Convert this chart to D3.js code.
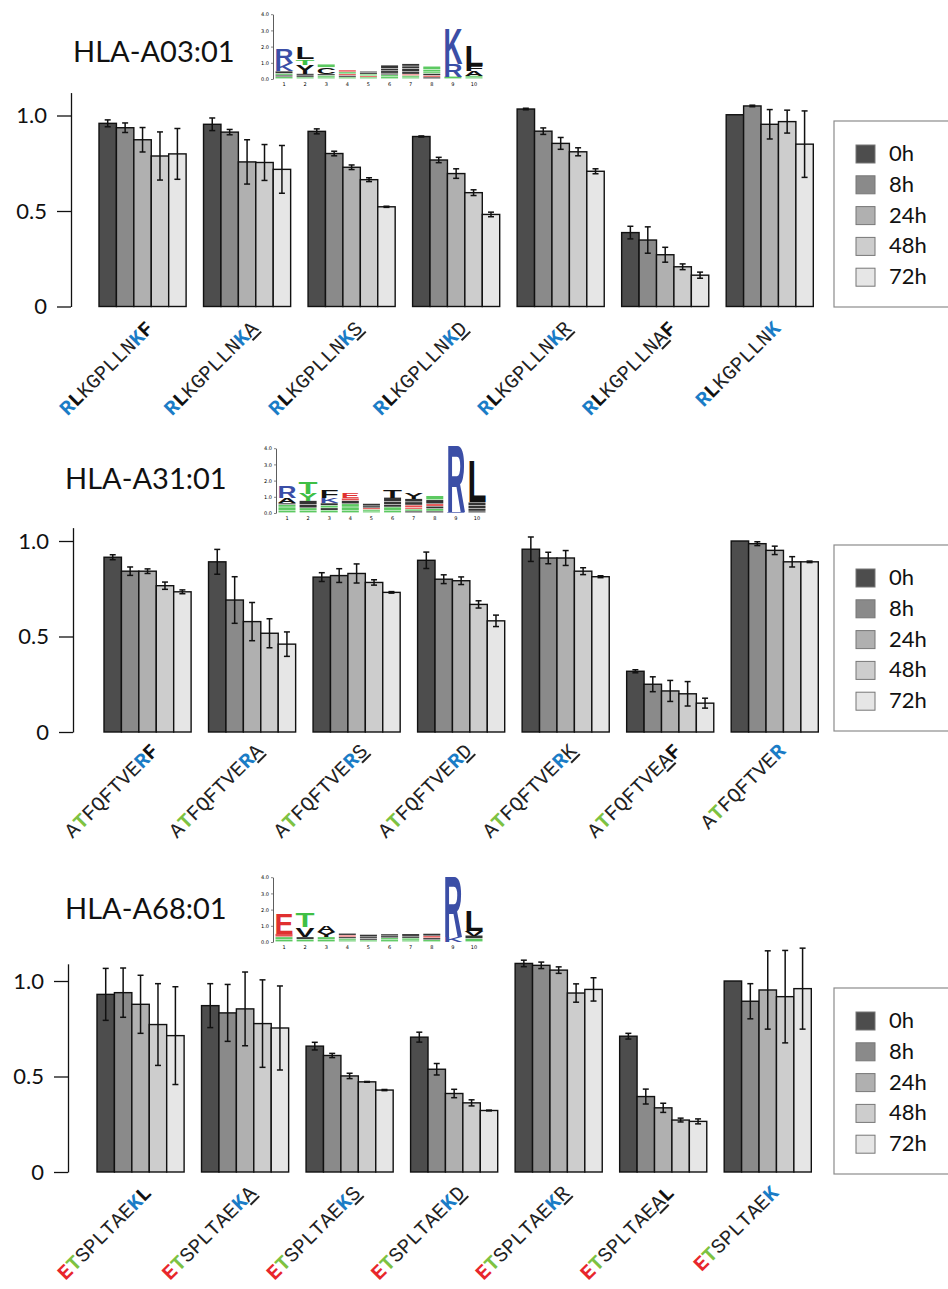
<!DOCTYPE html>
<html>
<head>
<meta charset="utf-8">
<script src="https://cdn.jsdelivr.net/npm/d3@7"></script>
<style>
  body { margin: 0; background: #fff; }
  svg { display: block; }
</style>
</head>
<body>
<svg id="chart" width="948" height="1289"></svg>
<script>
// time points and their bar colours
const times = ["0h", "8h", "24h", "48h", "72h"];
const timeFills = ["#4d4d4d", "#8a8a8a", "#b0b0b0", "#cdcdcd", "#e6e6e6"];
const yTicks = [0, 0.5, 1.0];

// HLA-A03:01
const a03Peptides = ["RLKGPLLNKF", "RLKGPLLNKA", "RLKGPLLNKS", "RLKGPLLNKD", "RLKGPLLNKR", "RLKGPLLNAF", "RLKGPLLNK"];
const a03Marks = ["BKnnnnnnBK", "BKnnnnnnBu", "BKnnnnnnBu", "BKnnnnnnBu", "BKnnnnnnBu", "BKnnnnnnuK", "BKnnnnnnB"];
const a03Values = [
  [0.959, 0.936, 0.873, 0.788, 0.799],
  [0.954, 0.913, 0.757, 0.754, 0.718],
  [0.917, 0.801, 0.729, 0.664, 0.522],
  [0.890, 0.767, 0.696, 0.596, 0.482],
  [1.034, 0.918, 0.854, 0.810, 0.708],
  [0.387, 0.348, 0.271, 0.208, 0.164],
  [1.004, 1.050, 0.954, 0.968, 0.850]
];
const a03Errors = [
  [0.018, 0.025, 0.064, 0.126, 0.133],
  [0.033, 0.014, 0.116, 0.094, 0.125],
  [0.013, 0.012, 0.012, 0.010, 0.003],
  [0.003, 0.014, 0.025, 0.015, 0.012],
  [0.004, 0.017, 0.031, 0.021, 0.013],
  [0.033, 0.069, 0.039, 0.015, 0.016],
  [0.000, 0.004, 0.077, 0.060, 0.174]
];

// HLA-A31:01
const a31Peptides = ["ATFQFTVERF", "ATFQFTVERA", "ATFQFTVERS", "ATFQFTVERD", "ATFQFTVERK", "ATFQFTVEAF", "ATFQFTVER"];
const a31Marks = ["nGnnnnnnBK", "nGnnnnnnBu", "nGnnnnnnBu", "nGnnnnnnBu", "nGnnnnnnBu", "nGnnnnnnuK", "nGnnnnnnB"];
const a31Values = [
  [0.915, 0.842, 0.842, 0.766, 0.734],
  [0.891, 0.691, 0.578, 0.517, 0.460],
  [0.811, 0.819, 0.830, 0.783, 0.731],
  [0.899, 0.800, 0.792, 0.668, 0.582],
  [0.957, 0.911, 0.911, 0.842, 0.813],
  [0.318, 0.250, 0.215, 0.200, 0.151],
  [1.000, 0.986, 0.951, 0.891, 0.891]
];
const a31Errors = [
  [0.013, 0.022, 0.012, 0.019, 0.010],
  [0.065, 0.122, 0.100, 0.076, 0.064],
  [0.023, 0.036, 0.050, 0.014, 0.004],
  [0.043, 0.023, 0.020, 0.019, 0.030],
  [0.064, 0.030, 0.039, 0.018, 0.005],
  [0.008, 0.039, 0.055, 0.064, 0.026],
  [0.000, 0.010, 0.022, 0.027, 0.004]
];

// HLA-A68:01
const a68Peptides = ["ETSPLTAEKL", "ETSPLTAEKA", "ETSPLTAEKS", "ETSPLTAEKD", "ETSPLTAEKR", "ETSPLTAEAL", "ETSPLTAEK"];
const a68Marks = ["RGnnnnnnBK", "RGnnnnnnBu", "RGnnnnnnBu", "RGnnnnnnBu", "RGnnnnnnBu", "RGnnnnnnuK", "RGnnnnnnB"];
const a68Values = [
  [0.930, 0.939, 0.878, 0.772, 0.714],
  [0.871, 0.833, 0.854, 0.777, 0.754],
  [0.659, 0.610, 0.503, 0.472, 0.429],
  [0.706, 0.538, 0.411, 0.362, 0.322],
  [1.092, 1.082, 1.057, 0.937, 0.956],
  [0.711, 0.395, 0.336, 0.272, 0.265],
  [1.000, 0.894, 0.953, 0.918, 0.960]
];
const a68Errors = [
  [0.136, 0.129, 0.152, 0.214, 0.256],
  [0.115, 0.149, 0.193, 0.229, 0.220],
  [0.020, 0.011, 0.014, 0.002, 0.003],
  [0.026, 0.030, 0.022, 0.016, 0.002],
  [0.017, 0.017, 0.017, 0.048, 0.061],
  [0.015, 0.039, 0.024, 0.010, 0.013],
  [0.000, 0.092, 0.205, 0.242, 0.212]
];

// sequence logos: per position, letters bottom to top [letter, bits, colour code]
const logoTicks = [0, 1, 2, 3, 4];
const logoPositions = [1, 2, 3, 4, 5, 6, 7, 8, 9, 10];
const a03Logo = [
  [["G", 0.12, "g"], ["A", 0.1, "k"], ["S", 0.1, "g"], ["C", 0.15, "k"], ["K", 0.5, "b"], ["R", 0.9, "b"]],
  [["S", 0.1, "g"], ["A", 0.12, "k"], ["V", 0.1, "k"], ["Y", 0.55, "k"], ["T", 0.35, "g"], ["L", 0.75, "k"]],
  [["G", 0.1, "g"], ["S", 0.1, "g"], ["A", 0.1, "k"], ["C", 0.4, "k"], ["Y", 0.2, "g"]],
  [["G", 0.1, "g"], ["A", 0.1, "k"], ["D", 0.1, "r"], ["S", 0.12, "g"], ["E", 0.12, "r"]],
  [["T", 0.1, "g"], ["E", 0.08, "r"], ["S", 0.1, "g"], ["A", 0.1, "k"], ["L", 0.08, "k"]],
  [["S", 0.12, "g"], ["G", 0.12, "g"], ["V", 0.1, "k"], ["P", 0.15, "k"], ["A", 0.15, "k"], ["L", 0.2, "k"]],
  [["T", 0.1, "g"], ["S", 0.1, "g"], ["D", 0.08, "r"], ["L", 0.15, "k"], ["A", 0.2, "k"], ["V", 0.15, "k"], ["I", 0.15, "k"]],
  [["P", 0.1, "k"], ["E", 0.1, "r"], ["A", 0.12, "k"], ["N", 0.1, "g"], ["S", 0.15, "g"], ["G", 0.2, "g"]],
  [["S", 0.15, "g"], ["R", 0.8, "b"], ["K", 2.25, "b"]],
  [["G", 0.1, "g"], ["S", 0.1, "g"], ["A", 0.3, "k"], ["F", 0.3, "k"], ["L", 1.3, "k"]]
];
const a31Logo = [
  [["G", 0.15, "g"], ["S", 0.2, "g"], ["T", 0.15, "g"], ["V", 0.1, "k"], ["A", 0.3, "k"], ["R", 0.75, "b"]],
  [["S", 0.15, "g"], ["G", 0.15, "g"], ["A", 0.2, "k"], ["V", 0.25, "k"], ["Y", 0.45, "g"], ["T", 0.75, "g"]],
  [["S", 0.15, "g"], ["A", 0.15, "k"], ["G", 0.15, "g"], ["V", 0.15, "k"], ["K", 0.35, "b"], ["F", 0.45, "k"]],
  [["G", 0.15, "g"], ["S", 0.2, "g"], ["T", 0.2, "g"], ["A", 0.2, "k"], ["D", 0.15, "r"], ["E", 0.35, "r"]],
  [["G", 0.1, "g"], ["T", 0.1, "g"], ["D", 0.1, "r"], ["A", 0.12, "k"], ["L", 0.15, "k"]],
  [["G", 0.15, "g"], ["S", 0.2, "g"], ["A", 0.15, "k"], ["L", 0.2, "k"], ["E", 0.25, "k"], ["T", 0.45, "k"]],
  [["A", 0.1, "k"], ["S", 0.12, "g"], ["D", 0.1, "r"], ["E", 0.15, "r"], ["V", 0.2, "k"], ["L", 0.2, "k"], ["Y", 0.4, "k"]],
  [["P", 0.1, "k"], ["S", 0.15, "g"], ["A", 0.15, "k"], ["E", 0.15, "r"], ["L", 0.25, "k"], ["G", 0.25, "g"]],
  [["K", 0.05, "b"], ["R", 4.3, "b"]],
  [["F", 0.1, "k"], ["V", 0.15, "k"], ["I", 0.2, "k"], ["M", 0.2, "k"], ["L", 2.6, "k"]]
];
const a68Logo = [
  [["S", 0.15, "g"], ["G", 0.15, "g"], ["D", 0.2, "r"], ["E", 1.3, "r"]],
  [["S", 0.15, "g"], ["A", 0.15, "k"], ["V", 0.6, "k"], ["T", 0.9, "g"]],
  [["G", 0.15, "g"], ["S", 0.15, "g"], ["Y", 0.3, "k"], ["A", 0.4, "k"]],
  [["G", 0.1, "g"], ["T", 0.1, "g"], ["A", 0.1, "k"], ["E", 0.1, "r"], ["V", 0.12, "k"]],
  [["S", 0.1, "g"], ["A", 0.1, "k"], ["L", 0.1, "k"], ["Y", 0.15, "k"]],
  [["G", 0.12, "g"], ["S", 0.12, "g"], ["A", 0.12, "k"], ["L", 0.12, "k"]],
  [["T", 0.1, "g"], ["S", 0.12, "g"], ["A", 0.12, "k"], ["L", 0.15, "k"]],
  [["G", 0.12, "g"], ["A", 0.12, "k"], ["E", 0.12, "r"], ["L", 0.15, "k"]],
  [["K", 0.3, "b"], ["R", 3.9, "b"]],
  [["G", 0.2, "g"], ["A", 0.2, "k"], ["V", 0.3, "k"], ["L", 1.3, "k"]]
];

const logoColors = { b: "#3b4ea6", g: "#3fbf45", r: "#e03030", k: "#111111" };
const markColors = { B: "#1a7cc6", K: "#111111", G: "#7dc242", R: "#e8262b", n: "#222222", u: "#222222" };

const panels = [
  { title: "HLA-A03:01", peptides: a03Peptides, marks: a03Marks, values: a03Values, errors: a03Errors, logo: a03Logo,
    titleX: 73, titleY: 62, y0: 306.5, top: 1.12, axisX: 71, barsX0: 99, legendY: 121, logoX: 273, logoY0: 79, labelDy: 23 },
  { title: "HLA-A31:01", peptides: a31Peptides, marks: a31Marks, values: a31Values, errors: a31Errors, logo: a31Logo,
    titleX: 65, titleY: 489, y0: 732, top: 1.07, axisX: 73, barsX0: 104, legendY: 545, logoX: 276, logoY0: 513, labelDy: 20 },
  { title: "HLA-A68:01", peptides: a68Peptides, marks: a68Marks, values: a68Values, errors: a68Errors, logo: a68Logo,
    titleX: 65, titleY: 919, y0: 1172, top: 1.09, axisX: 68, barsX0: 97, legendY: 988, logoX: 273, logoY0: 942, labelDy: 22 }
];

const svg = d3.select("#chart");
const unit = 191;          // pixels per 1.0 on the value axis
const groupsWidth = 714.3; // from first bar to last bar
const color = d3.scaleOrdinal().domain(times).range(timeFills);

panels.forEach(p => {
  const g = svg.append("g");

  // title
  g.append("text")
    .attr("x", p.titleX).attr("y", p.titleY)
    .attr("font-family", "Lato, 'Open Sans', sans-serif")
    .attr("font-size", 29)
    .attr("fill", "#111")
    .text(p.title);

  // scales
  const y = d3.scaleLinear().domain([0, p.top]).range([p.y0, p.y0 - p.top * unit]);
  const x = d3.scaleBand()
    .domain(p.peptides)
    .range([p.barsX0, p.barsX0 + groupsWidth])
    .paddingInner(1 / 6).paddingOuter(0);
  const xs = d3.scaleBand().domain(times).range([0, x.bandwidth()]);

  // y axis
  const yAxis = g.append("g")
    .attr("transform", "translate(" + p.axisX + ",0)")
    .call(d3.axisLeft(y)
      .tickValues(yTicks)
      .tickSize(14).tickSizeOuter(0).tickPadding(10)
      .tickFormat(d => d === 0 ? "0" : d3.format(".1f")(d)));
  yAxis.select(".domain").attr("stroke", "#111").attr("stroke-width", 1.3);
  yAxis.selectAll(".tick line").attr("stroke", "#111").attr("stroke-width", 1.3);
  yAxis.selectAll(".tick text")
    .attr("font-family", "Lato, 'Open Sans', sans-serif")
    .attr("font-size", 22).attr("fill", "#111");

  // bars
  const groups = g.selectAll(".grp")
    .data(p.peptides.map((pep, i) => ({
      pep,
      bars: times.map((t, j) => ({ t, v: p.values[i][j], e: p.errors[i][j] }))
    })))
    .join("g")
    .attr("transform", d => "translate(" + x(d.pep) + ",0)");

  groups.selectAll("rect")
    .data(d => d.bars)
    .join("rect")
    .attr("x", d => xs(d.t))
    .attr("y", d => y(d.v))
    .attr("width", xs.bandwidth())
    .attr("height", d => y(0) - y(d.v))
    .attr("fill", d => color(d.t))
    .attr("stroke", "#111")
    .attr("stroke-width", 1.4);

  // error bars
  const eb = groups.selectAll(".err")
    .data(d => d.bars.filter(b => b.e > 0))
    .join("g")
    .attr("class", "err")
    .attr("stroke", "#111")
    .attr("stroke-width", 1.5);
  const cx = d => xs(d.t) + xs.bandwidth() / 2;
  eb.append("line")
    .attr("x1", cx).attr("x2", cx)
    .attr("y1", d => y(d.v + d.e)).attr("y2", d => y(d.v - d.e));
  eb.append("line")
    .attr("x1", d => cx(d) - 3).attr("x2", d => cx(d) + 3)
    .attr("y1", d => y(d.v + d.e)).attr("y2", d => y(d.v + d.e));
  eb.append("line")
    .attr("x1", d => cx(d) - 3).attr("x2", d => cx(d) + 3)
    .attr("y1", d => y(d.v - d.e)).attr("y2", d => y(d.v - d.e));

  // rotated peptide labels
  const labels = g.selectAll(".pep")
    .data(p.peptides.map((pep, i) => ({ pep, mark: p.marks[i] })))
    .join("text")
    .attr("class", "pep")
    .attr("text-anchor", "end")
    .attr("font-family", "'Liberation Mono', 'Courier New', monospace")
    .attr("font-size", 20.5)
    .attr("transform", d => "translate(" + (x(d.pep) + x.bandwidth() / 2 + 12) + "," + (p.y0 + p.labelDy) + ") rotate(-45)");
  labels.selectAll("tspan")
    .data(d => d.pep.split("").map((ch, k) => ({ ch, m: d.mark[k] })))
    .join("tspan")
    .attr("fill", d => markColors[d.m])
    .attr("font-weight", d => (d.m === "n" || d.m === "u") ? "normal" : "bold")
    .attr("text-decoration", d => d.m === "u" ? "underline" : null)
    .text(d => d.ch);

  // legend
  const lg = g.append("g").attr("transform", "translate(834," + p.legendY + ")");
  lg.append("rect")
    .attr("x", 0).attr("y", 0).attr("width", 130).attr("height", 186)
    .attr("fill", "none").attr("stroke", "#8c8c8c").attr("stroke-width", 1.2);
  const rows = lg.selectAll(".row").data(times).join("g")
    .attr("transform", (d, i) => "translate(22," + (24 + i * 30.8) + ")");
  rows.append("rect")
    .attr("width", 19).attr("height", 18)
    .attr("fill", d => color(d))
    .attr("stroke", "#777").attr("stroke-width", 1);
  rows.append("text")
    .attr("x", 33).attr("y", 16)
    .attr("font-family", "Lato, 'Open Sans', sans-serif")
    .attr("font-size", 22).attr("fill", "#111")
    .text(d => d);

  // sequence logo
  const ly = d3.scaleLinear().domain([0, 4]).range([p.logoY0, p.logoY0 - 4 * 16.2]);
  const lx = d3.scaleLinear().domain([1, 10]).range([p.logoX + 11, p.logoX + 201]);
  const logoG = g.append("g");
  const la = logoG.append("g")
    .attr("transform", "translate(" + p.logoX + ",0)")
    .call(d3.axisLeft(ly).tickValues(logoTicks).tickSize(2).tickPadding(2).tickSizeOuter(0));
  la.select(".domain").attr("stroke", "#333").attr("stroke-width", 0.8);
  la.selectAll(".tick line").attr("stroke", "#333").attr("stroke-width", 0.6);
  la.selectAll(".tick text").attr("font-size", 5).attr("font-family", "DejaVu Sans, sans-serif");
  logoG.selectAll(".pos")
    .data(logoPositions)
    .join("text")
    .attr("x", d => lx(d)).attr("y", p.logoY0 + 7)
    .attr("text-anchor", "middle")
    .attr("font-size", 5).attr("font-family", "DejaVu Sans, sans-serif")
    .text(d => d);
  const w = 19;
  p.logo.forEach((stack, i) => {
    let acc = 0;
    stack.forEach(([letter, bits, c]) => {
      const yb = ly(acc);
      const h = ly(0) - ly(bits);
      acc += bits;
      if (bits < 0.3) {
        // tiny letters are squashed to thin coloured strips
        logoG.append("rect")
          .attr("x", lx(i + 1) - w / 2 + 1).attr("y", yb - h)
          .attr("width", w - 2).attr("height", Math.max(h - 0.6, 0.8))
          .attr("fill", logoColors[c]).attr("opacity", 0.85);
        return;
      }
      logoG.append("text")
        .attr("font-family", "'Liberation Sans', Arial, sans-serif")
        .attr("font-weight", "bold")
        .attr("font-size", 100)
        .attr("textLength", 70)
        .attr("lengthAdjust", "spacingAndGlyphs")
        .attr("fill", logoColors[c])
        .attr("transform", "translate(" + (lx(i + 1) - w / 2) + "," + yb + ") scale(" + (w / 70) + "," + (h / 72) + ")")
        .text(letter);
    });
  });
});
</script>
</body>
</html>
